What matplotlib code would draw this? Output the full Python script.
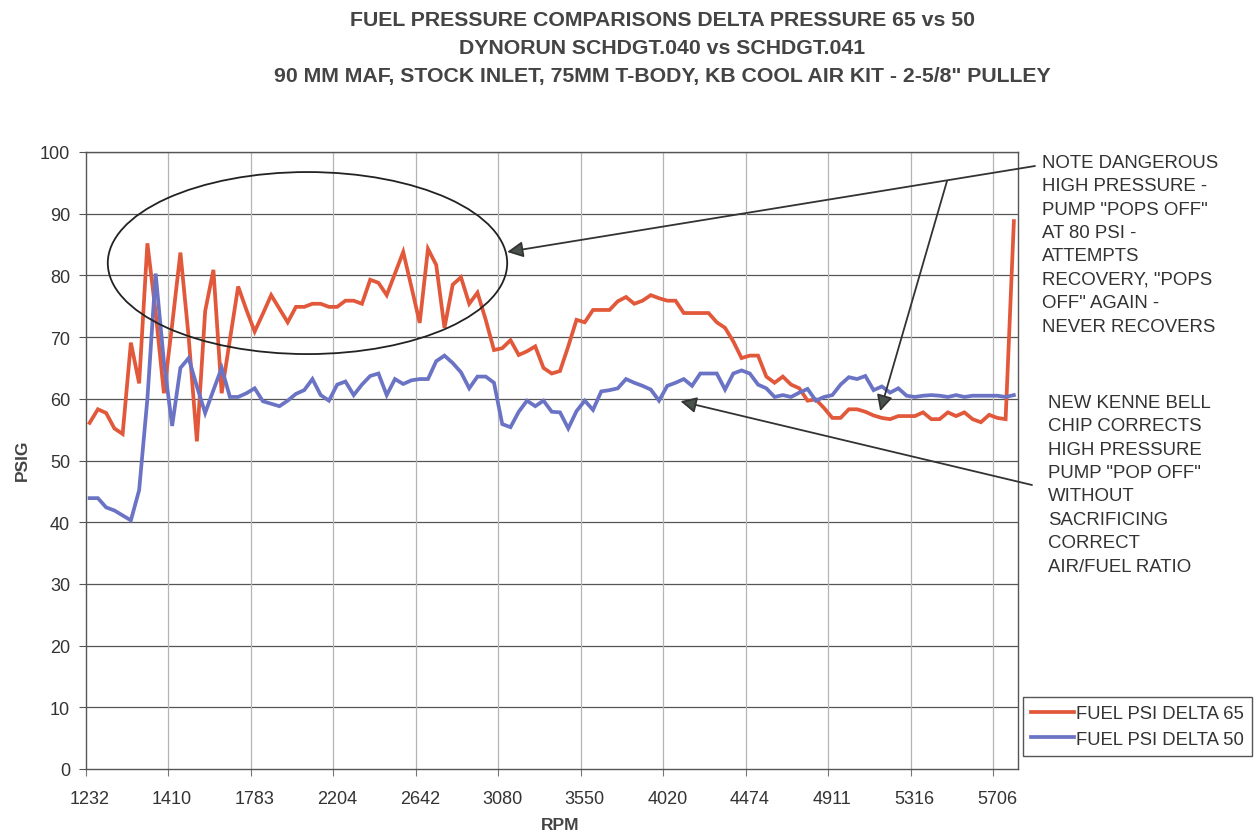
import matplotlib
matplotlib.use("Agg")
import matplotlib.pyplot as plt
from matplotlib.patches import Ellipse
import numpy as np

# --- DATA (one value per dyno sample) ---
DELTA_65 = [56.1, 58.3, 57.7, 55.2, 54.3, 69.1, 62.5, 85.2, 74.0, 60.9,
            72.0, 83.7, 70.0, 53.1, 74.2, 80.9, 60.9, 69.6, 78.2, 74.4,
            70.9, 73.8, 76.8, 74.6, 72.4, 74.9, 74.9, 75.4, 75.4, 74.9,
            74.9, 75.9, 75.9, 75.4, 79.3, 78.8, 76.8, 80.3, 83.8, 78.1,
            72.3, 84.3, 81.7, 71.5, 78.5, 79.7, 75.4, 77.2, 72.8, 67.9,
            68.2, 69.5, 67.1, 67.7, 68.5, 65.0, 64.1, 64.5, 68.5, 72.8,
            72.4, 74.4, 74.4, 74.4, 75.8, 76.5, 75.4, 75.9, 76.8, 76.3,
            75.9, 75.9, 73.9, 73.9, 73.9, 73.9, 72.4, 71.5, 69.3, 66.6,
            67.0, 67.0, 63.6, 62.6, 63.6, 62.3, 61.7, 59.7, 59.9, 58.5,
            56.9, 56.9, 58.3, 58.3, 57.9, 57.3, 56.9, 56.7, 57.2, 57.2,
            57.2, 57.8, 56.7, 56.7, 57.8, 57.2, 57.8, 56.7, 56.2, 57.4,
            56.9, 56.7, 88.8]
DELTA_50 = [43.9, 43.9, 42.4, 41.9, 41.1, 40.3, 45.2, 60.0, 80.3, 66.0,
            55.6, 65.0, 66.6, 62.0, 57.7, 61.4, 65.0, 60.3, 60.3, 60.9,
            61.7, 59.6, 59.2, 58.8, 59.7, 60.8, 61.4, 63.2, 60.6, 59.7,
            62.3, 62.8, 60.6, 62.3, 63.7, 64.1, 60.6, 63.2, 62.4, 63.0,
            63.2, 63.2, 66.1, 67.0, 65.8, 64.3, 61.7, 63.6, 63.6, 62.6,
            55.9, 55.4, 57.9, 59.7, 58.8, 59.7, 57.9, 57.8, 55.2, 58.0,
            59.7, 58.2, 61.2, 61.4, 61.7, 63.2, 62.6, 62.1, 61.5, 59.7,
            62.1, 62.6, 63.2, 62.1, 64.1, 64.1, 64.1, 61.5, 64.1, 64.6,
            64.1, 62.3, 61.7, 60.3, 60.6, 60.3, 61.0, 61.6, 59.7, 60.3,
            60.6, 62.3, 63.5, 63.2, 63.7, 61.4, 62.0, 61.0, 61.7, 60.5,
            60.3, 60.5, 60.6, 60.5, 60.3, 60.6, 60.3, 60.5, 60.5, 60.5,
            60.5, 60.3, 60.6]
RPM_LABELS = ["1232", "1410", "1783", "2204", "2642", "3080", "3550",
              "4020", "4474", "4911", "5316", "5706"]
LABEL_EVERY = 10

# --- STYLE ---
C65, C50 = "#E2583A", "#6B74C4"
GRID_H, GRID_V = "#555555", "#b5b5b5"
TXT = "#333333"
plt.rcParams["font.family"] = ["Liberation Sans", "DejaVu Sans"]

W, H = 1258, 837


def fig_xy(px, py):
    return px / W, 1 - py / H


def main():
    fig = plt.figure(figsize=(W / 100, H / 100), dpi=100)
    ax = fig.add_axes([85.5 / W, 1 - 770 / H, (1018 - 85.5) / W, (770 - 153) / H])

    n = len(DELTA_65)
    x = np.arange(n)
    l65, = ax.plot(x, DELTA_65, color=C65, lw=2.7, solid_joinstyle="miter", zorder=3)
    l50, = ax.plot(x, DELTA_50, color=C50, lw=2.7, solid_joinstyle="miter", zorder=3)

    ax.set_xlim(-0.5, n - 0.5)
    ax.set_ylim(0, 100)
    ax.set_yticks(range(0, 101, 10))
    for y in range(10, 101, 10):
        ax.axhline(y, color=GRID_H, lw=0.9, zorder=1)

    # category boundaries get the gridlines/ticks, labels sit on the samples
    bounds = np.arange(0, n, LABEL_EVERY) - 0.5
    ax.set_xticks(bounds)
    ax.set_xticklabels([])
    for b in bounds[1:]:
        ax.axvline(b, color=GRID_V, lw=0.9, zorder=1)
    ax.set_xticks(np.arange(0, n, LABEL_EVERY), minor=True)
    ax.set_xticklabels(RPM_LABELS, minor=True)
    ax.tick_params(axis="x", which="minor", length=0, pad=15, labelsize=13, labelcolor=TXT)
    ax.tick_params(axis="x", which="major", length=5, color="#777")
    ax.tick_params(axis="y", length=5, color="#555", labelsize=13, labelcolor=TXT, pad=6)
    for s in ax.spines.values():
        s.set_color("#555")
        s.set_linewidth(1.0)

    # circled problem zone + callouts
    ax.add_patch(Ellipse((26.4, 82.0), 48.4, 29.5, fill=False, ec="#222", lw=1.3, zorder=4))
    arrow = dict(arrowstyle="-|>", color="#333", fc="#4a524c", lw=1.3,
                 mutation_scale=24, shrinkA=0, shrinkB=0)
    ax.annotate("", xy=(50.6, 83.8), xycoords="data",
                xytext=fig_xy(1035, 167), textcoords="figure fraction",
                arrowprops=arrow, annotation_clip=False)
    ax.annotate("", xy=(95.8, 58.0), xycoords="data",
                xytext=fig_xy(947, 182), textcoords="figure fraction",
                arrowprops=arrow, annotation_clip=False)
    ax.annotate("", xy=(71.6, 59.6), xycoords="data",
                xytext=fig_xy(1032, 486), textcoords="figure fraction",
                arrowprops=arrow, annotation_clip=False)

    fig.text(*fig_xy(1042, 155),
             "NOTE DANGEROUS\nHIGH PRESSURE -\nPUMP \"POPS OFF\"\nAT 80 PSI -\n"
             "ATTEMPTS\nRECOVERY, \"POPS\nOFF\" AGAIN -\nNEVER RECOVERS",
             ha="left", va="top", fontsize=13.4, color=TXT, linespacing=1.49)
    fig.text(*fig_xy(1048, 395),
             "NEW KENNE BELL\nCHIP CORRECTS\nHIGH PRESSURE\nPUMP \"POP OFF\"\n"
             "WITHOUT\nSACRIFICING\nCORRECT\nAIR/FUEL RATIO",
             ha="left", va="top", fontsize=13.4, color=TXT, linespacing=1.49)

    fig.text(*fig_xy(662, 11),
             "FUEL PRESSURE COMPARISONS DELTA PRESSURE 65 vs 50\n"
             "DYNORUN SCHDGT.040 vs SCHDGT.041\n"
             "90 MM MAF, STOCK INLET, 75MM T-BODY, KB COOL AIR KIT - 2-5/8\" PULLEY",
             ha="center", va="top", fontsize=15.3, fontweight="bold",
             color="#444", linespacing=1.6)
    fig.text(*fig_xy(22, 460), "PSIG", rotation=90, ha="center", va="center",
             fontsize=12.5, fontweight="bold", color="#444")
    fig.text(*fig_xy(560, 826), "RPM", ha="center", va="center",
             fontsize=12.5, fontweight="bold", color="#444")

    leg = fig.legend([l65, l50], ["FUEL PSI DELTA 65", "FUEL PSI DELTA 50"],
                     loc="upper left", bbox_to_anchor=fig_xy(1023, 698),
                     fontsize=13.3, handlelength=2.3, handletextpad=0.1,
                     borderpad=0.45, labelspacing=0.45, borderaxespad=0,
                     fancybox=False, framealpha=1)
    leg.get_frame().set_edgecolor("#555")
    leg.get_frame().set_linewidth(1.0)
    for t in leg.get_texts():
        t.set_color(TXT)

    fig.savefig("out.png", dpi=100)


if __name__ == "__main__":
    main()
